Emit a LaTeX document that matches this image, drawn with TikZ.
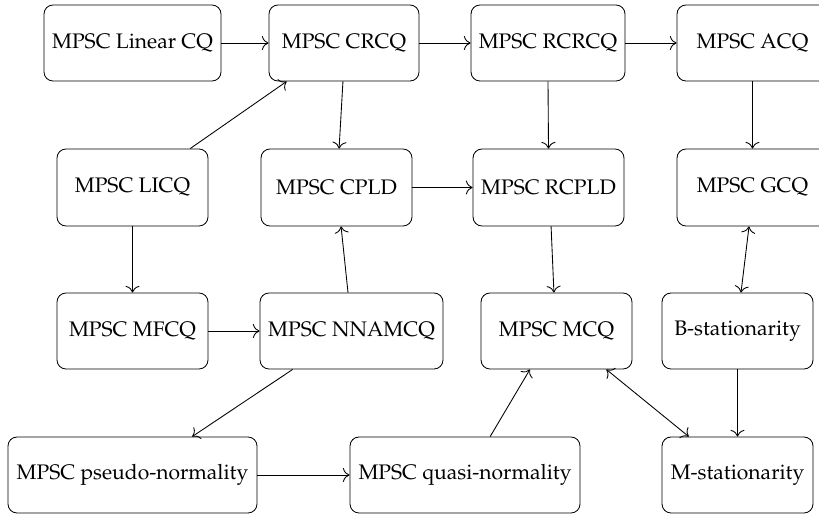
\documentclass[tikz,border=0pt]{standalone}
\usepackage[T1]{fontenc}
\usepackage{mathpazo}
\usetikzlibrary{calc,arrows.meta}
\begin{document}
\begin{tikzpicture}[x=1pt,y=-1pt,line width=0.87pt,>={To[scale=1.9]},
  box/.style={draw,rounded corners=9pt,inner sep=0pt,align=center,font=\fontsize{21.05}{25}\selectfont},
  arr/.style={->},
  barr/.style={<->}]
\useasboundingbox (0,0) rectangle (819,516);
\clip (0,0) rectangle (819,516);
% row 1
\node[box,minimum width=177pt,minimum height=76pt] (lin) at (132.5,43) {MPSC Linear CQ};
\node[box,minimum width=150pt,minimum height=76pt] (crcq) at (344,43) {MPSC CRCQ};
\node[box,minimum width=154pt,minimum height=76pt] (rcrcq) at (548,43) {MPSC RCRCQ};
\node[box,minimum width=151pt,minimum height=76pt] (acq) at (752.5,43) {MPSC ACQ};
% row 2
\node[box,minimum width=151pt,minimum height=77pt] (licq) at (132.5,187.5) {MPSC LICQ};
\node[box,minimum width=151pt,minimum height=77pt] (cpld) at (336.5,187.5) {MPSC CPLD};
\node[box,minimum width=151pt,minimum height=77pt] (rcpld) at (548.5,187.5) {MPSC RCPLD};
\node[box,minimum width=151pt,minimum height=77pt] (gcq) at (752.5,187.5) {MPSC GCQ};
% row 3
\node[box,minimum width=151pt,minimum height=76pt] (mfcq) at (132.5,331) {MPSC MFCQ};
\node[box,minimum width=183pt,minimum height=76pt] (nnamcq) at (351.5,331) {MPSC NNAMCQ};
\node[box,minimum width=151pt,minimum height=76pt] (mcq) at (556.5,331) {MPSC MCQ};
\node[box,minimum width=151pt,minimum height=76pt] (bst) at (737.5,331) {B-stationarity};
% row 4
\node[box,minimum width=249pt,minimum height=76pt] (pseudo) at (132.5,475) {MPSC pseudo-normality};
\node[box,minimum width=230pt,minimum height=76pt] (quasi) at (465,475) {MPSC quasi-normality};
\node[box,minimum width=151pt,minimum height=76pt] (mst) at (737.5,475) {M-stationarity};
% connectors
\draw[arr] (lin) -- (crcq);
\draw[arr] (crcq) -- (rcrcq);
\draw[arr] (rcrcq) -- (acq);
\draw[arr] ($(licq.north west)!0.88!(licq.north east)$) -- ($(crcq.south west)!0.12!(crcq.south east)$);
\draw[arr] ($(crcq.south west)!0.493!(crcq.south east)$) -- ($(cpld.north west)!0.517!(cpld.north east)$);
\draw[arr] (rcrcq.south) -- (rcpld.north);
\draw[arr] (acq.south) -- (gcq.north);
\draw[arr] (cpld) -- (rcpld);
\draw[arr] (licq.south) -- (mfcq.north);
\draw[arr] ($(nnamcq.north west)!0.481!(nnamcq.north east)$) -- ($(cpld.south west)!0.53!(cpld.south east)$);
\draw[arr] (mfcq) -- (nnamcq);
\draw[arr] ($(rcpld.south west)!0.517!(rcpld.south east)$) -- ($(mcq.north west)!0.483!(mcq.north east)$);
\draw[barr] ($(gcq.south west)!0.477!(gcq.south east)$) -- ($(bst.north west)!0.523!(bst.north east)$);
\draw[arr] ($(nnamcq.south west)!0.18!(nnamcq.south east)$) -- ($(pseudo.north west)!0.739!(pseudo.north east)$);
\draw[arr] (pseudo) -- (quasi);
\draw[arr] ($(quasi.north west)!0.609!(quasi.north east)$) -- ($(mcq.south west)!0.325!(mcq.south east)$);
\draw[barr] ($(mcq.south west)!0.828!(mcq.south east)$) -- ($(mst.north west)!0.179!(mst.north east)$);
\draw[arr] (bst.south) -- (mst.north);
\end{tikzpicture}
\end{document}
